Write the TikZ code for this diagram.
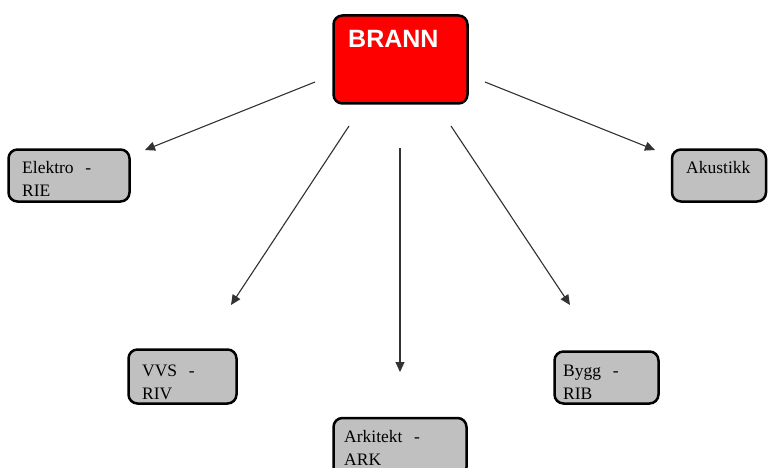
\documentclass[tikz,border=0pt]{standalone}
\usepackage{fontspec}
\setmainfont{Liberation Serif}
\newfontfamily\headfont{Liberation Sans}
\usetikzlibrary{arrows.meta}
\definecolor{brannred}{RGB}{255,0,0}
\definecolor{boxgray}{RGB}{192,192,192}

\begin{document}
\begin{tikzpicture}[x=1pt, y=-1pt,
        box/.style = {draw, rounded corners=9pt, line width=2.5pt, fill=boxgray, inner sep=0pt},
        txt/.style = {anchor=base west, inner sep=0pt, text width=110pt, align=left, font=\fontsize{17.5}{23}\selectfont},
        pil/.style = {-{Triangle[length=10pt, width=9pt]}, line width=1.1pt, draw=black!80, fill=black}]
        \clip (0,0) rectangle (768,468);
        % boxes
        \node[box, fill=brannred, minimum width=134pt, minimum height=88pt] (brann) at (400.5,59.5) {};
        \node[box, minimum width=121pt, minimum height=52pt] (elektro) at (69,175.5) {};
        \node[box, minimum width=94pt, minimum height=52pt] (akustikk) at (719,175.5) {};
        \node[box, minimum width=108pt, minimum height=54pt] (vvs) at (182.5,376.5) {};
        \node[box, minimum width=133pt, minimum height=58pt] (arkitekt) at (400,447) {};
        \node[box, minimum width=104pt, minimum height=52pt] (bygg) at (606.5,377.5) {};
        % texts
        \node[anchor=base west, inner sep=0pt, text=white, font=\headfont\bfseries\fontsize{25}{30}\selectfont] (brann-t) at (348,48) {BRANN};
        \node[txt] (elektro-t) at (22,173) {Elektro\ \ -\\RIE};
        \node[txt] (akustikk-t) at (686,173) {Akustikk};
        \node[txt] (vvs-t) at (142,376) {VVS\ \ -\\RIV};
        \node[txt] (arkitekt-t) at (344,442) {Arkitekt\ \ -\\ARK};
        \node[txt] (bygg-t) at (563,376) {Bygg\ \ -\\RIB};
        % arrow ends
        \coordinate (a1) at (315,82);  \coordinate (b1) at (145,150);
        \coordinate (a2) at (349,126); \coordinate (b2) at (231,305);
        \coordinate (a3) at (400,148); \coordinate (b3) at (400,372);
        \coordinate (a4) at (451,126); \coordinate (b4) at (570,305);
        \coordinate (a5) at (485,82);  \coordinate (b5) at (655,150);
        \draw[pil] (a1) -- (b1);
        \draw[pil] (a2) -- (b2);
        \draw[pil] (a3) -- (b3);
        \draw[pil] (a4) -- (b4);
        \draw[pil] (a5) -- (b5);
\end{tikzpicture}
\end{document}
